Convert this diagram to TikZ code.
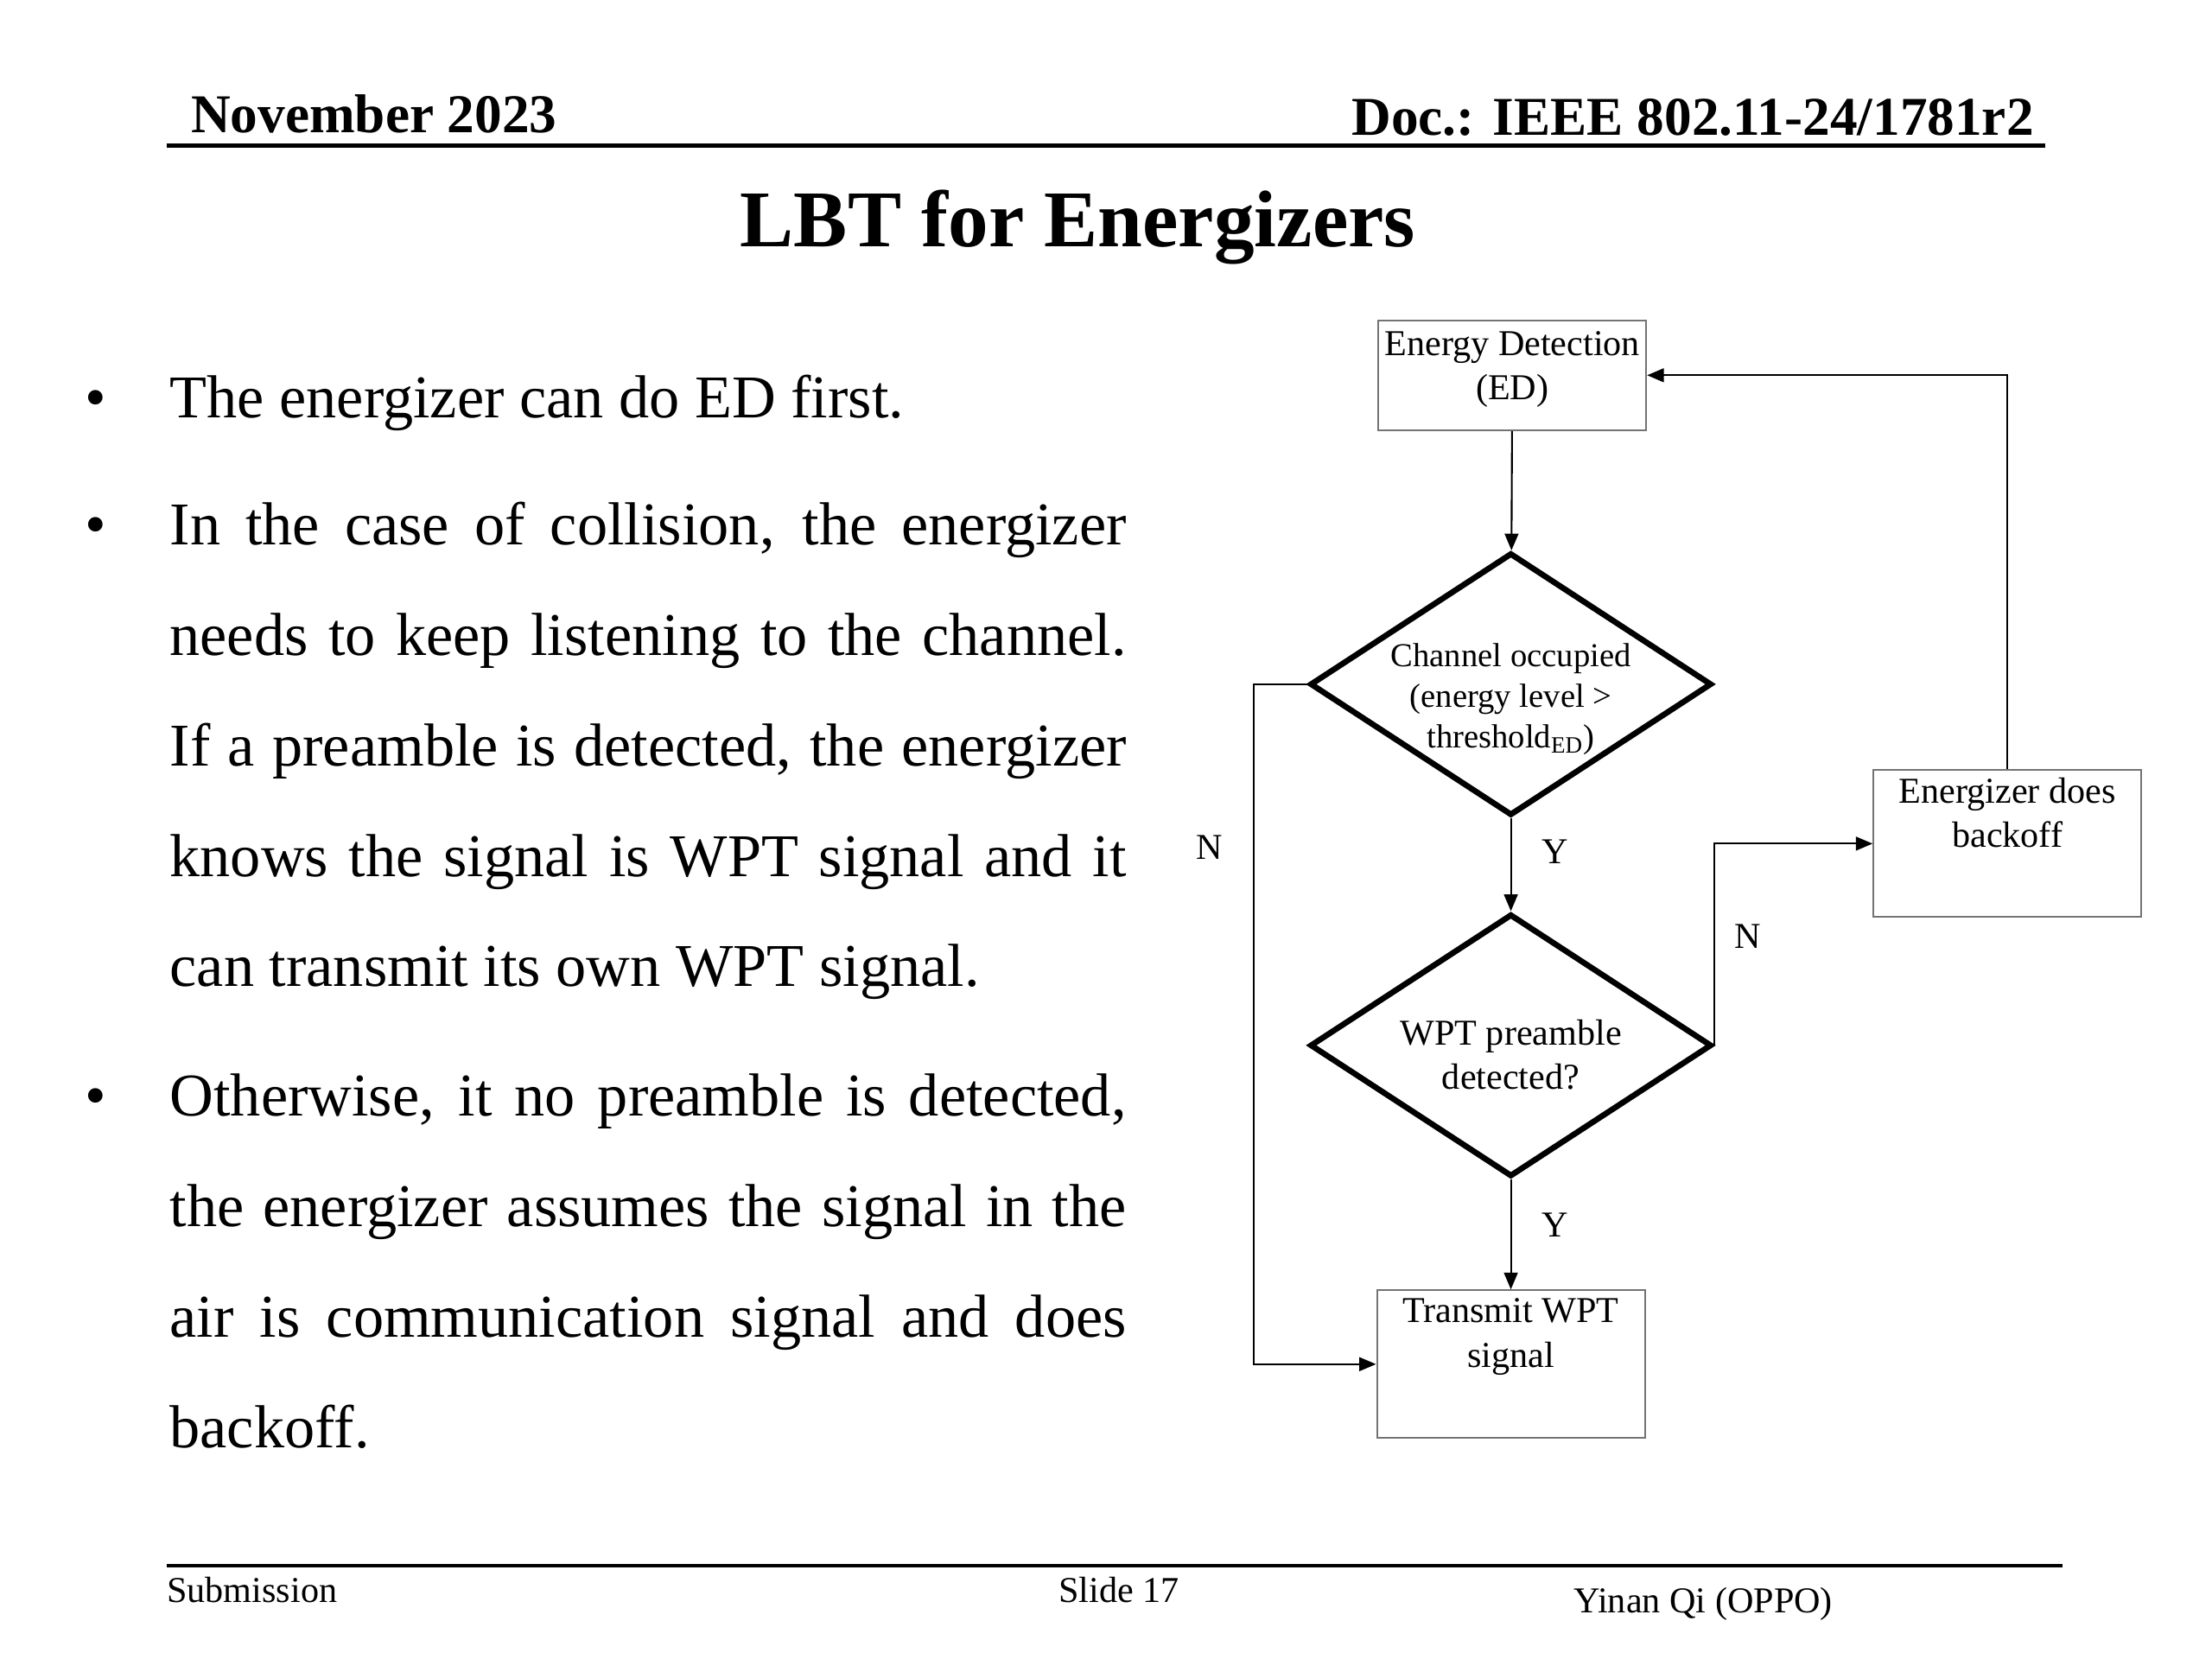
\documentclass[tikz,border=0pt]{standalone}
\usepackage{fontspec}
\setmainfont{Liberation Serif}
\usetikzlibrary{shapes.geometric, arrows.meta, positioning}
\tikzset{
	box/.style={draw=black!55, line width=0.6pt, minimum width=3.1cm, align=center, inner sep=0pt, font=\fontsize{12}{14.6}\selectfont},
	decision/.style={diamond, aspect=1.53, draw, line width=1.9pt, minimum width=4.65cm, minimum height=3.04cm, align=center, inner sep=-0.4cm, font=\fontsize{12}{14.6}\selectfont},
	flow/.style={-{Triangle[length=5.5pt,width=4.5pt]}, line width=0.6pt},
	yn/.style={font=\fontsize{12}{14}\selectfont, inner sep=0pt},
	para/.style={anchor=base west, text width=11.07cm, align=justify, inner sep=0pt, font=\fontsize{20}{36.4}\selectfont},
	bullet/.style={anchor=base, inner sep=0pt, font=\fontsize{20}{24}\selectfont}
}

\begin{document}
\begin{tikzpicture}[x=0.016327cm, y=-0.016327cm]
	\useasboundingbox (0,0) rectangle (1568,1176);
	
	% en-tete
	\node[anchor=base west, inner sep=0pt, font=\bfseries\fontsize{18}{22}\selectfont] (date) at (135,94) {November 2023};
	\node[anchor=base east, inner sep=0pt, font=\bfseries\fontsize{18}{22}\selectfont] (doc) at (1442,96) {Doc.: IEEE 802.11-24/1781r2};
	\draw[line width=1.4pt] (118,103) -- (1450,103);
	\node[anchor=base, inner sep=0pt, font=\bfseries\fontsize{26.5}{30}\selectfont] (title) at (764,175) {LBT for Energizers};
	
	% texte
	\hyphenpenalty=10000 \tolerance=9999
	\node[bullet] (b1) at (68,296) {•};
	\node[para] (p1) at (120,296) {The energizer can do ED first.};
	\node[bullet] (b2) at (68,386) {•};
	\node[para] (p2) at (120,386) {In the case of collision, the energizer\linebreak needs to keep listening to the channel.\linebreak If a preamble is detected, the energizer\linebreak knows the signal is WPT signal and it\linebreak can transmit its own WPT signal.};
	\node[bullet] (b3) at (68,791) {•};
	\node[para] (p3) at (120,791) {Otherwise, it no preamble is detected,\linebreak the energizer assumes the signal in the\linebreak air is communication signal and does\linebreak backoff.};
	
	% organigramme
	\node[box, minimum height=1.27cm] (ed) at (1072,266) {Energy Detection\\(ED)\\[-8pt]~};
	\node[decision, font=\fontsize{11}{13.4}\selectfont] (occ) at (1071,485) {\mbox{}\\[4pt]Channel occupied\\(energy level >\\threshold\textsubscript{ED})};
	\node[decision] (wpt) at (1071,741) {\mbox{}\\WPT preamble\\detected?};
	\node[box, minimum height=1.71cm] (tx) at (1071,967) {Transmit WPT\\signal\\[6pt]~};
	\node[box, minimum height=1.70cm] (bo) at (1423,598) {Energizer does\\backoff\\[6pt]~};
	\coordinate (left) at (889,485);
	
	\draw[flow] (ed) -- (occ);
	\draw[flow] (occ) -- node[yn, pos=0.36, right=10pt] {Y} (wpt);
	\draw[flow] (wpt) -- node[yn, pos=0.41, right=10pt] {Y} (tx);
	\draw[flow] (occ.west) -- (left) |- node[yn, pos=0.12, left=10pt] {N} (tx.west);
	\draw[flow] (wpt.east) |- node[yn, pos=0.27, right=6.3pt] {N} (bo.west);
	\draw[flow] (bo.north) |- (ed.east);
	
	% pied de page
	\draw[line width=1.2pt] (118,1110) -- (1462,1110);
	\node[anchor=base west, inner sep=0pt, font=\fontsize{12}{14}\selectfont] (sub) at (118,1136) {Submission};
	\node[anchor=base west, inner sep=0pt, font=\fontsize{12}{14}\selectfont] (slide) at (750,1136) {Slide 17};
	\node[anchor=base west, inner sep=0pt, font=\fontsize{12}{14}\selectfont] (auth) at (1115,1143) {Yinan Qi (OPPO)};
\end{tikzpicture}
\end{document}
